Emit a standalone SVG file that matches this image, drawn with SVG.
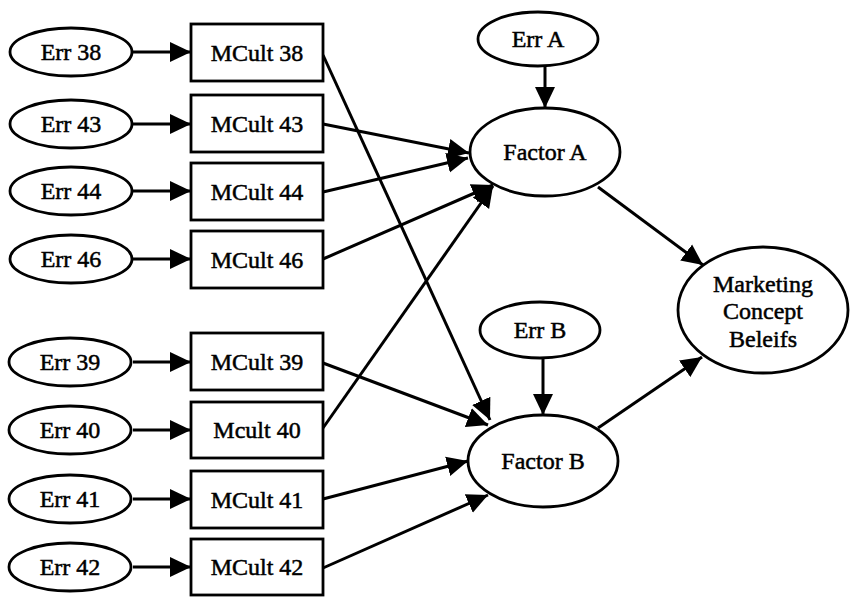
<svg xmlns="http://www.w3.org/2000/svg" width="851" height="597" viewBox="0 0 851 597">
<style>
.n{fill:#fff;stroke:#000;stroke-width:2.8}
.t{font-family:"Liberation Serif","Times New Roman",serif;font-size:24px;fill:#000;stroke:#000;stroke-width:0.5;text-anchor:middle}
.c line{stroke:#000;stroke-width:3;marker-end:url(#ah)}
</style>
<defs>
<marker id="ah" markerUnits="userSpaceOnUse" viewBox="0 0 22 22" markerWidth="22" markerHeight="22" refX="21" refY="11" orient="auto">
<path d="M0,1 L21,11 L0,21 z" fill="#000"/>
</marker>
</defs>
<rect width="851" height="597" fill="#fff"/>
<g class="c" id="connectors">
<line x1="133" y1="52" x2="191" y2="52"/>
<line x1="133" y1="124" x2="191" y2="124"/>
<line x1="133" y1="191" x2="191" y2="191"/>
<line x1="133" y1="259" x2="191" y2="259"/>
<line x1="133" y1="362" x2="191" y2="362"/>
<line x1="133" y1="430" x2="191" y2="430"/>
<line x1="133" y1="499" x2="191" y2="499"/>
<line x1="133" y1="567" x2="191" y2="567"/>
<line x1="323" y1="55" x2="490" y2="420"/>
<line x1="323" y1="124" x2="469" y2="153"/>
<line x1="323" y1="192" x2="468" y2="158"/>
<line x1="323" y1="259" x2="493" y2="185"/>
<line x1="323" y1="363" x2="488" y2="425"/>
<line x1="323" y1="428" x2="493" y2="186"/>
<line x1="323" y1="499" x2="468" y2="461"/>
<line x1="323" y1="568" x2="488" y2="495"/>
<line x1="545" y1="66" x2="545" y2="108"/>
<line x1="543" y1="358" x2="543" y2="415"/>
<line x1="598" y1="187" x2="703" y2="265"/>
<line x1="598" y1="428" x2="702" y2="357"/>
</g>
<g id="err38"><ellipse class="n" cx="71" cy="52" rx="61" ry="24"/><text class="t" x="71" y="60">Err 38</text></g>
<g id="err43"><ellipse class="n" cx="71" cy="124" rx="61" ry="24"/><text class="t" x="71" y="132">Err 43</text></g>
<g id="err44"><ellipse class="n" cx="71" cy="191" rx="61" ry="24"/><text class="t" x="71" y="199">Err 44</text></g>
<g id="err46"><ellipse class="n" cx="71" cy="259" rx="61" ry="24"/><text class="t" x="71" y="267">Err 46</text></g>
<g id="err39"><ellipse class="n" cx="70" cy="362" rx="61" ry="24"/><text class="t" x="70" y="370">Err 39</text></g>
<g id="err40"><ellipse class="n" cx="70" cy="430" rx="61" ry="24"/><text class="t" x="70" y="438">Err 40</text></g>
<g id="err41"><ellipse class="n" cx="70" cy="499" rx="61" ry="24"/><text class="t" x="70" y="507">Err 41</text></g>
<g id="err42"><ellipse class="n" cx="70" cy="567" rx="61" ry="24"/><text class="t" x="70" y="575">Err 42</text></g>
<g id="mcult38"><rect class="n" x="191" y="24" width="132" height="57"/><text class="t" x="257" y="61">MCult 38</text></g>
<g id="mcult43"><rect class="n" x="191" y="95" width="132" height="57"/><text class="t" x="257" y="132">MCult 43</text></g>
<g id="mcult44"><rect class="n" x="191" y="163" width="132" height="57"/><text class="t" x="257" y="200">MCult 44</text></g>
<g id="mcult46"><rect class="n" x="191" y="231" width="132" height="57"/><text class="t" x="257" y="268">MCult 46</text></g>
<g id="mcult39"><rect class="n" x="191" y="333" width="132" height="57"/><text class="t" x="257" y="370">MCult 39</text></g>
<g id="mcult40"><rect class="n" x="191" y="402" width="132" height="56"/><text class="t" x="257" y="438">Mcult 40</text></g>
<g id="mcult41"><rect class="n" x="191" y="471" width="132" height="57"/><text class="t" x="257" y="508">MCult 41</text></g>
<g id="mcult42"><rect class="n" x="191" y="539" width="132" height="56"/><text class="t" x="257" y="575">MCult 42</text></g>
<g id="errA"><ellipse class="n" cx="538" cy="39" rx="60" ry="27"/><text class="t" x="538" y="47">Err A</text></g>
<g id="factorA"><ellipse class="n" cx="545" cy="152" rx="75" ry="44"/><text class="t" x="545" y="160">Factor A</text></g>
<g id="errB"><ellipse class="n" cx="540" cy="330" rx="60" ry="28"/><text class="t" x="540" y="338">Err B</text></g>
<g id="factorB"><ellipse class="n" cx="543" cy="461" rx="75" ry="46"/><text class="t" x="543" y="469">Factor B</text></g>
<g id="mcb"><ellipse class="n" cx="763" cy="310" rx="85" ry="63"/><text class="t" x="763" y="292">Marketing</text><text class="t" x="763" y="319">Concept</text><text class="t" x="763" y="347">Beleifs</text></g>
</svg>
